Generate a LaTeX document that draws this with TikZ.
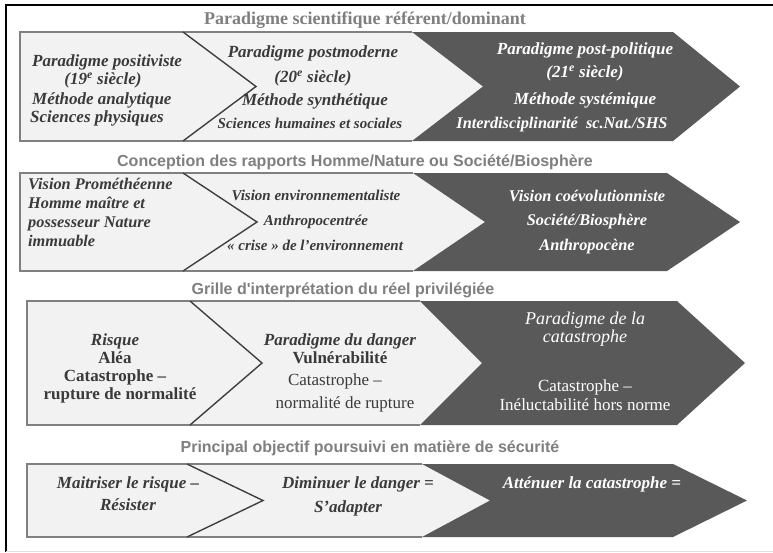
\documentclass[tikz,border=0pt]{standalone}
\usepackage{fontspec}
\setmainfont{Liberation Serif}
\newfontfamily\titlesans{Liberation Sans}
\definecolor{lightfill}{HTML}{F2F2F2}
\definecolor{darkfill}{HTML}{595959}
\definecolor{boxgray}{HTML}{808080}
\definecolor{chevgray}{HTML}{404040}
\definecolor{txtdark}{HTML}{3A3A3A}
\definecolor{titlegray}{HTML}{7F7F7F}
\newcommand\drawrow[9]{%
  \pgfmathsetmacro\rowmid{(#2+#3)/2}%
  \fill[lightfill] (#1,#2) -- (#6,#2) -- (#7,\rowmid) -- (#6,#3) -- (#1,#3) -- cycle;
  \fill[darkfill] (#6,#2) -- (#8,#2) -- (#9,\rowmid) -- (#8,#3) -- (#6,#3) -- (#7,\rowmid) -- cycle;
  \draw[boxline] (#6,#2) -- (#1,#2) -- (#1,#3) -- (#6,#3);
  \draw[chevline] (#4,#2) -- (#5,\rowmid) -- (#4,#3);
}
\begin{document}
\begin{tikzpicture}[x=1pt,y=-1pt,
  boxline/.style={draw=boxgray,line width=1.4pt},
  chevline/.style={draw=chevgray,line width=1.4pt},
  txt/.style={inner sep=0pt,anchor=mid,text=txtdark},
  wtxt/.style={inner sep=0pt,anchor=mid,text=white},
  bi/.style={font=\fontsize{17}{19}\selectfont\bfseries\itshape},
  bim/.style={font=\fontsize{16.3}{18}\selectfont\bfseries\itshape},
  bis/.style={font=\fontsize{15}{17}\selectfont\bfseries\itshape},
  bu/.style={font=\fontsize{17}{19}\selectfont\bfseries},
  ru/.style={font=\fontsize{17}{19}\selectfont},
  ri/.style={font=\fontsize{18}{20}\selectfont\itshape},
  titleserif/.style={inner sep=0pt,anchor=mid,text=titlegray,font=\fontsize{18}{20}\selectfont\bfseries},
  titlesf/.style={inner sep=0pt,anchor=mid,text=titlegray,font=\titlesans\fontsize{16}{18}\selectfont\bfseries}]
\useasboundingbox (0,0) rectangle (773,552);
\fill[white] (0,0) rectangle (773,552);
% frame
\draw[line width=1.6pt,black] (773,5) -- (6,5) -- (6,552);
\draw[line width=0.8pt,black!12] (6,551) -- (773,551);
% rows
\drawrow{20}{32}{141}{183}{256}{412}{483}{673}{740}
\drawrow{20}{173}{271}{183}{257}{413}{485}{667}{740}
\drawrow{27}{301}{425}{190}{262}{420}{482}{677}{745}
\drawrow{27}{464}{537}{187}{263}{422}{490}{673}{747}
% titles
\node[titleserif] (T1) at (365,22) {Paradigme scientifique référent/dominant};
\node[titlesf] (T2) at (355,164) {Conception des rapports Homme/Nature ou Société/Biosphère};
\node[titlesf] (T3) at (343,292) {Grille d'interprétation du réel privilégiée};
\node[titlesf] (T4) at (370,450) {Principal objectif poursuivi en matière de sécurité};
% row 1
\node[txt,bi,anchor=mid west] (a1) at (32,64) {Paradigme positiviste};
\node[txt,bi] (a2) at (103,82) {(19\textsuperscript{e} siècle)};
\node[txt,bi,anchor=mid west] (a3) at (32,102) {Méthode analytique};
\node[txt,bi,anchor=mid west] (a4) at (30,120) {Sciences physiques};
\node[txt,bi] (b1) at (313,55) {Paradigme postmoderne};
\node[txt,bi] (b2) at (313,80) {(20\textsuperscript{e} siècle)};
\node[txt,bi] (b3) at (315,103) {Méthode synthétique};
\node[txt,bis] (b4) at (310,126) {Sciences humaines et sociales};
\node[wtxt,bi] (c1) at (585,52) {Paradigme post-politique};
\node[wtxt,bi] (c2) at (585,75) {(21\textsuperscript{e} siècle)};
\node[wtxt,bi] (c3) at (585,102) {Méthode systémique};
\node[wtxt,bim] (c4) at (562,126) {Interdisciplinarité \ sc.Nat./SHS};
% row 2
\node[txt,bim,anchor=mid west] (d1) at (28,187) {Vision Prométhéenne};
\node[txt,bim,anchor=mid west] (d2) at (28,206) {Homme maître et};
\node[txt,bim,anchor=mid west] (d3) at (28,225) {possesseur Nature};
\node[txt,bim,anchor=mid west] (d4) at (28,244) {immuable};
\node[txt,bis] (e1) at (316,198) {Vision environnementaliste};
\node[txt,bis] (e2) at (316,223) {Anthropocentrée};
\node[txt,bis] (e3) at (315,248) {« crise » de l'environnement};
\node[wtxt,bim] (f1) at (587,199) {Vision coévolutionniste};
\node[wtxt,bim] (f2) at (587,223) {Société/Biosphère};
\node[wtxt,bim] (f3) at (587,248) {Anthropocène};
% row 3
\node[txt,bi] (g1) at (115,343) {Risque};
\node[txt,bu] (g2) at (115,361) {Aléa};
\node[txt,bu] (g3) at (115,379) {Catastrophe –};
\node[txt,bu] (g4) at (120,397) {rupture de normalité};
\node[txt,bi] (h1) at (340,343) {Paradigme du danger};
\node[txt,bu] (h2) at (340,361) {Vulnérabilité};
\node[txt,ru] (h3) at (335,383) {Catastrophe –};
\node[txt,ru] (h4) at (345,406) {normalité de rupture};
\node[wtxt,ri] (i1) at (585,322) {Paradigme de la};
\node[wtxt,ri] (i2) at (585,340) {catastrophe};
\node[wtxt,ru] (i3) at (585,389) {Catastrophe –};
\node[wtxt,ru] (i4) at (585,408) {Inéluctabilité hors norme};
% row 4
\node[txt,bi] (j1) at (128,486) {Maitriser le risque –};
\node[txt,bi] (j2) at (128,508) {Résister};
\node[txt,bi] (k1) at (358,486) {Diminuer le danger =};
\node[txt,bi] (k2) at (348,510) {S'adapter};
\node[wtxt,bi] (l1) at (592,486) {Atténuer la catastrophe =};
\end{tikzpicture}
\end{document}
